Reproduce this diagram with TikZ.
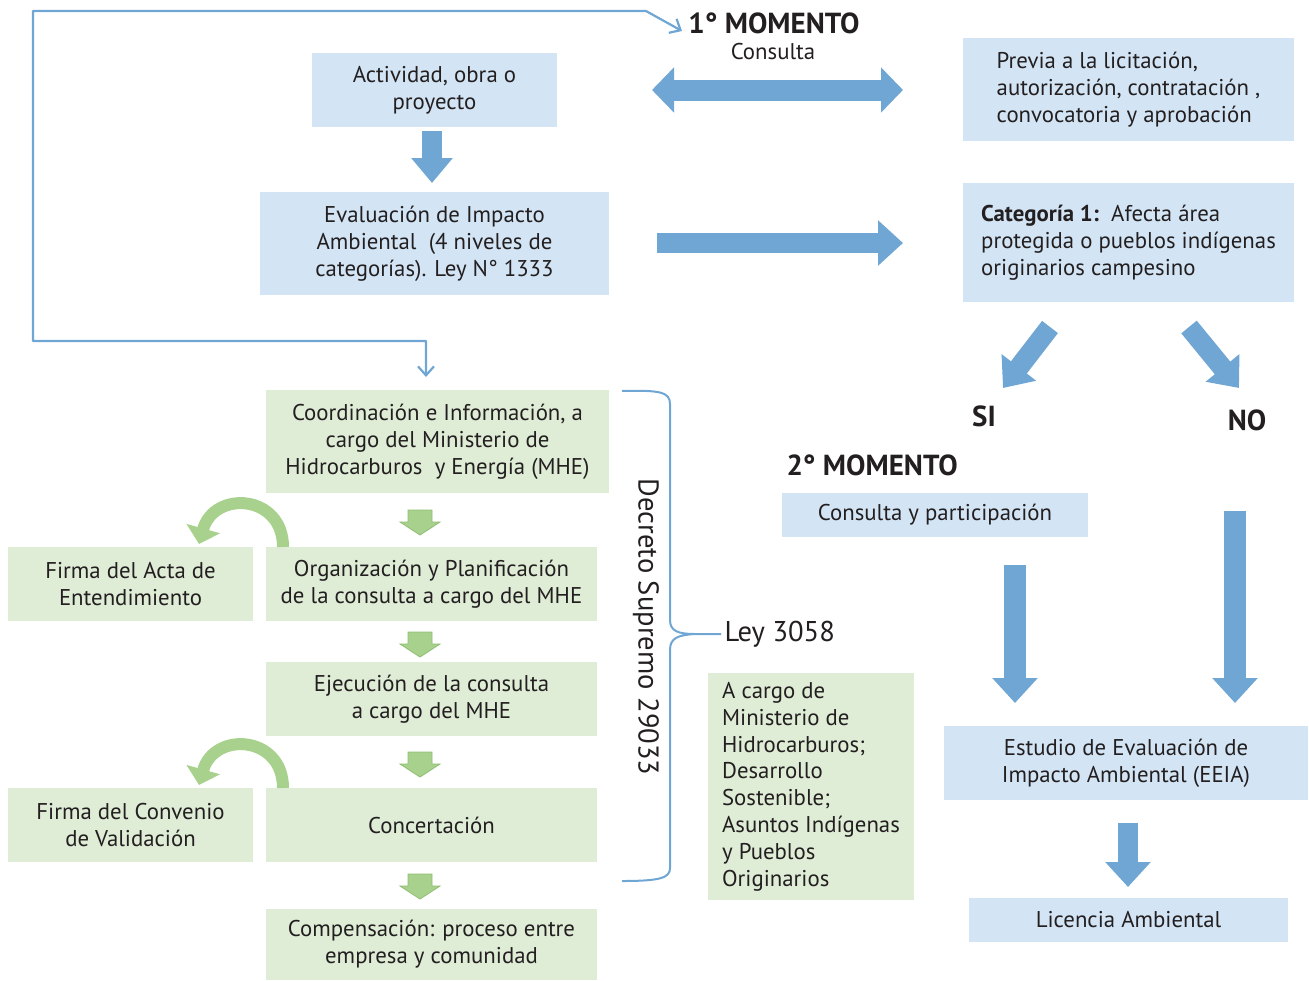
\documentclass[tikz,border=0pt]{standalone}
\usepackage{fontspec}
\setmainfont{PT Sans}
\usetikzlibrary{arrows.meta}
\definecolor{bbox}{HTML}{D3E5F5}
\definecolor{barrow}{HTML}{6FA6D4}
\definecolor{gbox}{HTML}{DFEDD7}
\definecolor{gafill}{HTML}{A9D18E}
\definecolor{galine}{HTML}{8DBE6F}
\definecolor{txt}{HTML}{231F20}
\begin{document}
\begin{tikzpicture}[x=1pt,y=-1pt,
  font=\fontsize{22.8}{26.8}\selectfont, text=txt,
  box/.style={draw=none, inner sep=0pt, align=center},
  bluebox/.style={box, fill=bbox},
  greenbox/.style={box, fill=gbox},
  fatarrow/.style={draw=barrow, line width=20pt, -{Triangle[width=44pt,length=25pt]}},
  fatdouble/.style={draw=barrow, line width=21pt, {Triangle[width=44pt,length=22pt]}-{Triangle[width=44pt,length=22pt]}},
  thinline/.style={draw=barrow, line width=2.2pt, line join=round},
  curvarrow/.style={draw=gafill, line width=12pt, -{Triangle[width=34pt,length=16pt]}},
  bigtxt/.style={font=\fontsize{28.6}{32}\selectfont},
  boldtxt/.style={font=\fontsize{29}{32}\selectfont\bfseries},
  garrowpic/.pic={\draw[fill=gafill, draw=galine, line width=0.8pt]
     (-12,0) -- (12,0) -- (12,12) -- (20,12) -- (0,25) -- (-20,12) -- (-12,12) -- cycle;}
]
\useasboundingbox (0,0) rectangle (1309,980);

% blue boxes
\node[bluebox, minimum width=245pt, minimum height=74pt] (act) at (434.5,90) {Actividad, obra o\\proyecto};
\node[bluebox, minimum width=349pt, minimum height=103pt] (eva) at (434.5,243.5) {Evaluación de Impacto\\Ambiental\ \ (4 niveles de\\categorías). Ley N° 1333};
\node[bluebox, minimum width=331pt, minimum height=103pt, align=left] (prev) at (1128.5,89.5) {Previa a la licitación,\\autorización, contratación ,\\convocatoria y aprobación};
\node[bluebox, minimum width=331pt, minimum height=119pt, align=left] (cat) at (1128.5,242.5) {\textbf{Categoría 1:}\ \ Afecta área\\protegida o pueblos indígenas\\originarios campesino};
\node[bluebox, minimum width=306pt, minimum height=44pt] (cons) at (935,515) {Consulta y participación};
\node[bluebox, minimum width=364pt, minimum height=74pt] (eeia) at (1126,763) {Estudio de Evaluación de\\Impacto Ambiental (EEIA)};
\node[bluebox, minimum width=319pt, minimum height=44pt] (lic) at (1128.5,920) {Licencia Ambiental};

% green boxes
\node[greenbox, minimum width=343pt, minimum height=103pt] (coord) at (437.5,441.5) {Coordinación e Información, a\\cargo del Ministerio de\\Hidrocarburos\ \ y Energía (MHE)};
\node[greenbox, minimum width=331pt, minimum height=74pt] (org) at (431.5,584) {Organización y Planificación\\de la consulta a cargo del MHE};
\node[greenbox, minimum width=245pt, minimum height=74pt] (acta) at (130.5,584) {Firma del Acta de\\Entendimiento};
\node[greenbox, minimum width=331pt, minimum height=74pt] (ejec) at (431.5,699) {Ejecución de la consulta\\a cargo del MHE};
\node[greenbox, minimum width=331pt, minimum height=74pt] (conc) at (431.5,825) {Concertación};
\node[greenbox, minimum width=245pt, minimum height=74pt] (conv) at (130.5,825) {Firma del Convenio\\de Validación};
\node[greenbox, minimum width=331pt, minimum height=71pt] (comp) at (431.5,944.5) {Compensación: proceso entre\\empresa y comunidad};
\node[greenbox, minimum width=206pt, minimum height=227pt, align=left] (acargo) at (811,786.5) {A cargo de\\Ministerio de\\Hidrocarburos;\\Desarrollo\\Sostenible;\\Asuntos Indígenas\\y Pueblos\\Originarios};

% labels
\node[boldtxt] (m1) at (774,23) {1° MOMENTO};
\node (consulta) at (773,52) {Consulta};
\node[boldtxt] (si) at (984,416) {SI};
\node[boldtxt] (no) at (1247,420) {NO};
\node[boldtxt, anchor=west] (m2) at (783,465) {2° MOMENTO};
\node[bigtxt, anchor=west] (ley) at (721,634) {Ley 3058};
\node[bigtxt, rotate=-90] (dec) at (646,627) {Decreto Supremo 29033};

% fat blue arrows
\coordinate (a1s) at (432,131); \coordinate (a1e) at (432,183);
\draw[fatarrow, line width=20pt, -{Triangle[width=40pt,length=25pt]}] (a1s) -- (a1e);
\coordinate (d1) at (652,90); \coordinate (d2) at (903,90);
\draw[fatdouble] (d1) -- (d2);
\coordinate (r1) at (657,243); \coordinate (r2) at (903,243);
\draw[fatarrow] (r1) -- (r2);
\coordinate (si1) at (1050,327); \coordinate (si2) at (1003,388);
\draw[fatarrow, -{Triangle[width=42pt,length=26pt]}] (si1) -- (si2);
\coordinate (no1) at (1189,327); \coordinate (no2) at (1239,388);
\draw[fatarrow, -{Triangle[width=42pt,length=26pt]}] (no1) -- (no2);
\coordinate (v1s) at (1015,565); \coordinate (v1e) at (1015,703);
\draw[fatarrow, line width=22pt] (v1s) -- (v1e);
\coordinate (v2s) at (1235,511); \coordinate (v2e) at (1235,703);
\draw[fatarrow, line width=22pt] (v2s) -- (v2e);
\coordinate (v3s) at (1128,823); \coordinate (v3e) at (1128,887);
\draw[fatarrow] (v3s) -- (v3e);

% small green arrows
\pic at (420,510) {garrowpic};
\pic at (420,632) {garrowpic};
\pic at (420,752) {garrowpic};
\pic at (420,874) {garrowpic};

% curved green arrows
\coordinate (c1s) at (283,547); \coordinate (c1e) at (199,544);
\draw[curvarrow] (c1s) .. controls (283,494) and (214,490) .. (c1e);
\coordinate (c2s) at (283,788); \coordinate (c2e) at (199,785);
\draw[curvarrow] (c2s) .. controls (283,735) and (214,731) .. (c2e);

% thin connector
\coordinate (t1) at (682,31);
\coordinate (t2) at (426,377);
\draw[thinline, {Straight Barb[length=9pt,width=16pt]}-{Straight Barb[length=9pt,width=16pt]}]
  (t1) -- (646,11) -- (33,11) -- (33,341) -- (426,341) -- (t2);

% brace
\draw[thinline, line width=2pt]
  (622,391) .. controls (660,390) and (670,392) .. (670,404) -- (670,620)
  .. controls (670,631) and (678,634) .. (695,634) -- (ley.west)
  (695,634) .. controls (678,635) and (670,638) .. (670,650) -- (670,868)
  .. controls (670,878) and (660,881) .. (622,881);
\end{tikzpicture}
\end{document}
